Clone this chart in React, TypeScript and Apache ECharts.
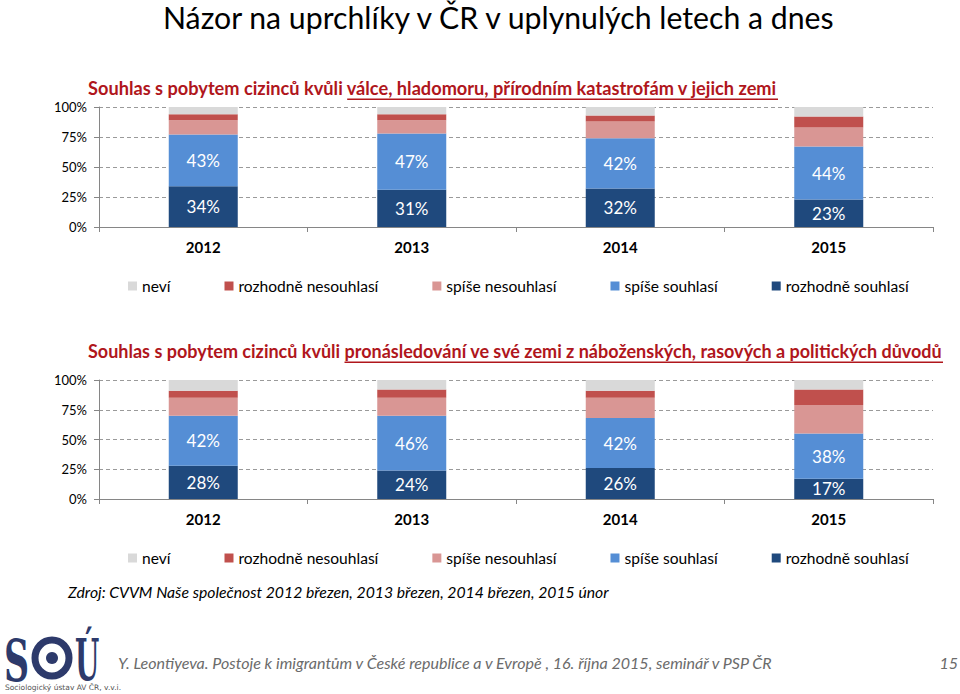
import React, { useEffect, useRef } from 'react';
import * as echarts from 'echarts';

const FONT = 'Lato';

const categories = ['2012', '2013', '2014', '2015'];
const yTicks = [0, 25, 50, 75, 100];

const seriesNames = ['rozhodně souhlasí', 'spíše souhlasí', 'spíše nesouhlasí', 'rozhodně nesouhlasí', 'neví'];
const legendNames = ['neví', 'rozhodně nesouhlasí', 'spíše nesouhlasí', 'spíše souhlasí', 'rozhodně souhlasí'];
const seriesColors = ['#1f497d', '#558ed5', '#d99694', '#c0504d', '#d9d9d9'];

// Chart 1: válka, hladomor, přírodní katastrofy
const c1RozhodneSouhlasi = [34, 31, 32, 23];
const c1SpiseSouhlasi = [43, 47, 42, 44];
const c1SpiseNesouhlasi = [12, 11, 14, 16];
const c1RozhodneNesouhlasi = [5, 5, 5, 9];
const c1Nevi = [6, 6, 7, 8];

// Chart 2: pronásledování
const c2RozhodneSouhlasi = [28, 24, 26, 17];
const c2SpiseSouhlasi = [42, 46, 42, 38];
const c2SpiseNesouhlasi = [15, 15, 17, 24];
const c2RozhodneNesouhlasi = [6, 7, 6, 13];
const c2Nevi = [9, 8, 9, 8];

const mainTitle = 'Názor na uprchlíky v ČR v uplynulých letech a dnes';
const titlePrefix = 'Souhlas s pobytem cizinců kvůli ';
const chart1Underlined = 'válce, hladomoru, přírodním katastrofám v jejich zemi';
const chart2Underlined = 'pronásledování ve své zemi z náboženských, rasových a politických důvodů';
const sourceText = 'Zdroj: CVVM Naše společnost 2012 březen, 2013 březen, 2014 březen, 2015 únor';
const footerText = 'Y. Leontiyeva. Postoje k imigrantům v České republice a v Evropě , 16. října 2015, seminář v PSP ČR';
const pageNumber = '15';
const logoSub = 'Sociologický ústav AV ČR, v.v.i.';

let ctx: CanvasRenderingContext2D | null = null;
function measure(text: string, size: number, weight = 'normal', style = 'normal', family = FONT) {
  if (!ctx) ctx = document.createElement('canvas').getContext('2d');
  if (!ctx) return text.length * size * 0.5;
  ctx.font = `${style} ${weight} ${size}px ${family}`;
  return ctx.measureText(text).width;
}
function fitSize(text: string, target: number, weight = 'normal', style = 'normal') {
  return (100 * target) / measure(text, 100, weight, style);
}

function txt(text: string, x: number, y: number, size: number, opts: any = {}) {
  return {
    type: 'text',
    x,
    y,
    silent: true,
    scaleX: opts.scaleX ?? 1,
    style: {
      text,
      fill: opts.fill ?? '#000',
      fontSize: size,
      fontFamily: opts.family ?? FONT,
      fontWeight: opts.weight ?? 'normal',
      fontStyle: opts.style ?? 'normal',
      align: opts.align ?? 'left',
      textAlign: opts.align ?? 'left',
      verticalAlign: 'middle',
      textVerticalAlign: 'middle',
    },
  };
}

export default function App() {
  const ref = useRef<HTMLDivElement>(null);
  useEffect(() => {
    document.body.style.margin = '0';
    const chart = echarts.init(ref.current as HTMLDivElement, null, { renderer: 'svg' });

    const titleColor = '#b0161c';
    const t1Size = fitSize(titlePrefix + chart1Underlined, 690, 'bold');
    const t2Size = fitSize(titlePrefix + chart2Underlined, 855, 'bold');
    const t1Pre = measure(titlePrefix, t1Size, 'bold');
    const t2Pre = measure(titlePrefix, t2Size, 'bold');
    const mainSize = fitSize(mainTitle, 675);
    const srcSize = fitSize(sourceText, 541, 'normal', 'italic');
    const footSize = fitSize(footerText, 657, 'normal', 'italic');
    const legendSize = fitSize('rozhodně nesouhlasí', 140);

    const grids = [
      { left: 99, top: 107, width: 834, height: 120 },
      { left: 99, top: 380, width: 834, height: 119 },
    ];

    const chartData = [
      [c1RozhodneSouhlasi, c1SpiseSouhlasi, c1SpiseNesouhlasi, c1RozhodneNesouhlasi, c1Nevi],
      [c2RozhodneSouhlasi, c2SpiseSouhlasi, c2SpiseNesouhlasi, c2RozhodneNesouhlasi, c2Nevi],
    ];

    const xAxes = grids.map((_, i) => ({
      type: 'category',
      gridIndex: i,
      data: categories,
      axisLine: { show: true, lineStyle: { color: '#868686', width: 1 } },
      axisTick: { show: true, length: 5, lineStyle: { color: '#868686' } },
      axisLabel: { color: '#000', fontSize: 15, fontWeight: 'bold', fontFamily: FONT, margin: 12 },
      splitLine: { show: false },
    }));

    const yAxes = grids.map((_, i) => ({
      type: 'value',
      gridIndex: i,
      min: yTicks[0],
      max: yTicks[yTicks.length - 1],
      interval: 25,
      axisLine: { show: true, lineStyle: { color: '#868686', width: 1 } },
      axisTick: { show: true, length: 5, lineStyle: { color: '#868686' } },
      axisLabel: { color: '#000', fontSize: 13, fontFamily: FONT, margin: 12, formatter: '{value}%' },
      splitLine: { show: true, lineStyle: { color: '#9a9a9a', type: [4, 3], width: 1 } },
    }));

    const series: any[] = [];
    chartData.forEach((arrs, gi) => {
      arrs.forEach((vals, si) => {
        series.push({
          type: 'bar',
          name: seriesNames[si],
          stack: 'c' + gi,
          xAxisIndex: gi,
          yAxisIndex: gi,
          barWidth: 69,
          data: vals,
          itemStyle: { color: seriesColors[si] },
          label: {
            show: si < 2,
            position: 'inside',
            formatter: '{c}%',
            color: '#fff',
            fontSize: 17,
            fontFamily: FONT,
          },
        });
      });
    });

    const legends = [273, 545].map((top) => ({
      top,
      left: 123,
      itemWidth: 9,
      itemHeight: 9,
      itemGap: 54,
      icon: 'rect',
      data: legendNames,
      selectedMode: false,
      textStyle: { fontSize: legendSize, fontFamily: FONT, color: '#000' },
    }));

    const navy = '#2d3a6b';
    const graphic: any[] = [
      txt(mainTitle, 163, 17, mainSize),
      txt(titlePrefix + chart1Underlined, 88, 88, t1Size, { fill: titleColor, weight: 'bold' }),
      {
        type: 'line',
        silent: true,
        shape: { x1: 88 + t1Pre, y1: 88 + t1Size * 0.62, x2: 778, y2: 88 + t1Size * 0.62 },
        style: { stroke: titleColor, lineWidth: 1.5 },
      },
      txt(titlePrefix + chart2Underlined, 88, 351, t2Size, { fill: titleColor, weight: 'bold' }),
      {
        type: 'line',
        silent: true,
        shape: { x1: 88 + t2Pre, y1: 351 + t2Size * 0.62, x2: 943, y2: 351 + t2Size * 0.62 },
        style: { stroke: titleColor, lineWidth: 1.5 },
      },
      txt(sourceText, 68, 591, srcSize, { style: 'italic' }),
      txt(footerText, 118, 662, footSize, { style: 'italic', fill: '#6b6b6b' }),
      txt(pageNumber, 958, 662, footSize, { style: 'italic', fill: '#6b6b6b', align: 'right' }),
      // logo
      txt('S', 4, 660, 58, { family: 'DejaVu Serif', weight: 'bold', fill: navy, scaleX: 0.6 }),
      {
        type: 'ellipse',
        silent: true,
        shape: { cx: 52, cy: 658, rx: 17, ry: 18 },
        style: { fill: 'none', stroke: navy, lineWidth: 7 },
      },
      { type: 'circle', silent: true, shape: { cx: 52, cy: 658, r: 6 }, style: { fill: navy } },
      txt('Ú', 75, 660, 58, { family: 'DejaVu Serif', weight: 'bold', fill: navy, scaleX: 0.48 }),
      txt(logoSub, 5, 687, 7.5, { fill: '#555', family: 'DejaVu Sans' }),
    ];

    chart.setOption({
      animation: false,
      backgroundColor: '#fff',
      textStyle: { fontFamily: FONT },
      grid: grids,
      xAxis: xAxes,
      yAxis: yAxes,
      legend: legends,
      series,
      graphic,
    });
    return () => chart.dispose();
  }, []);
  return <div ref={ref} style={{ position: 'absolute', left: 0, top: 0, width: 960, height: 694 }} />;
}
